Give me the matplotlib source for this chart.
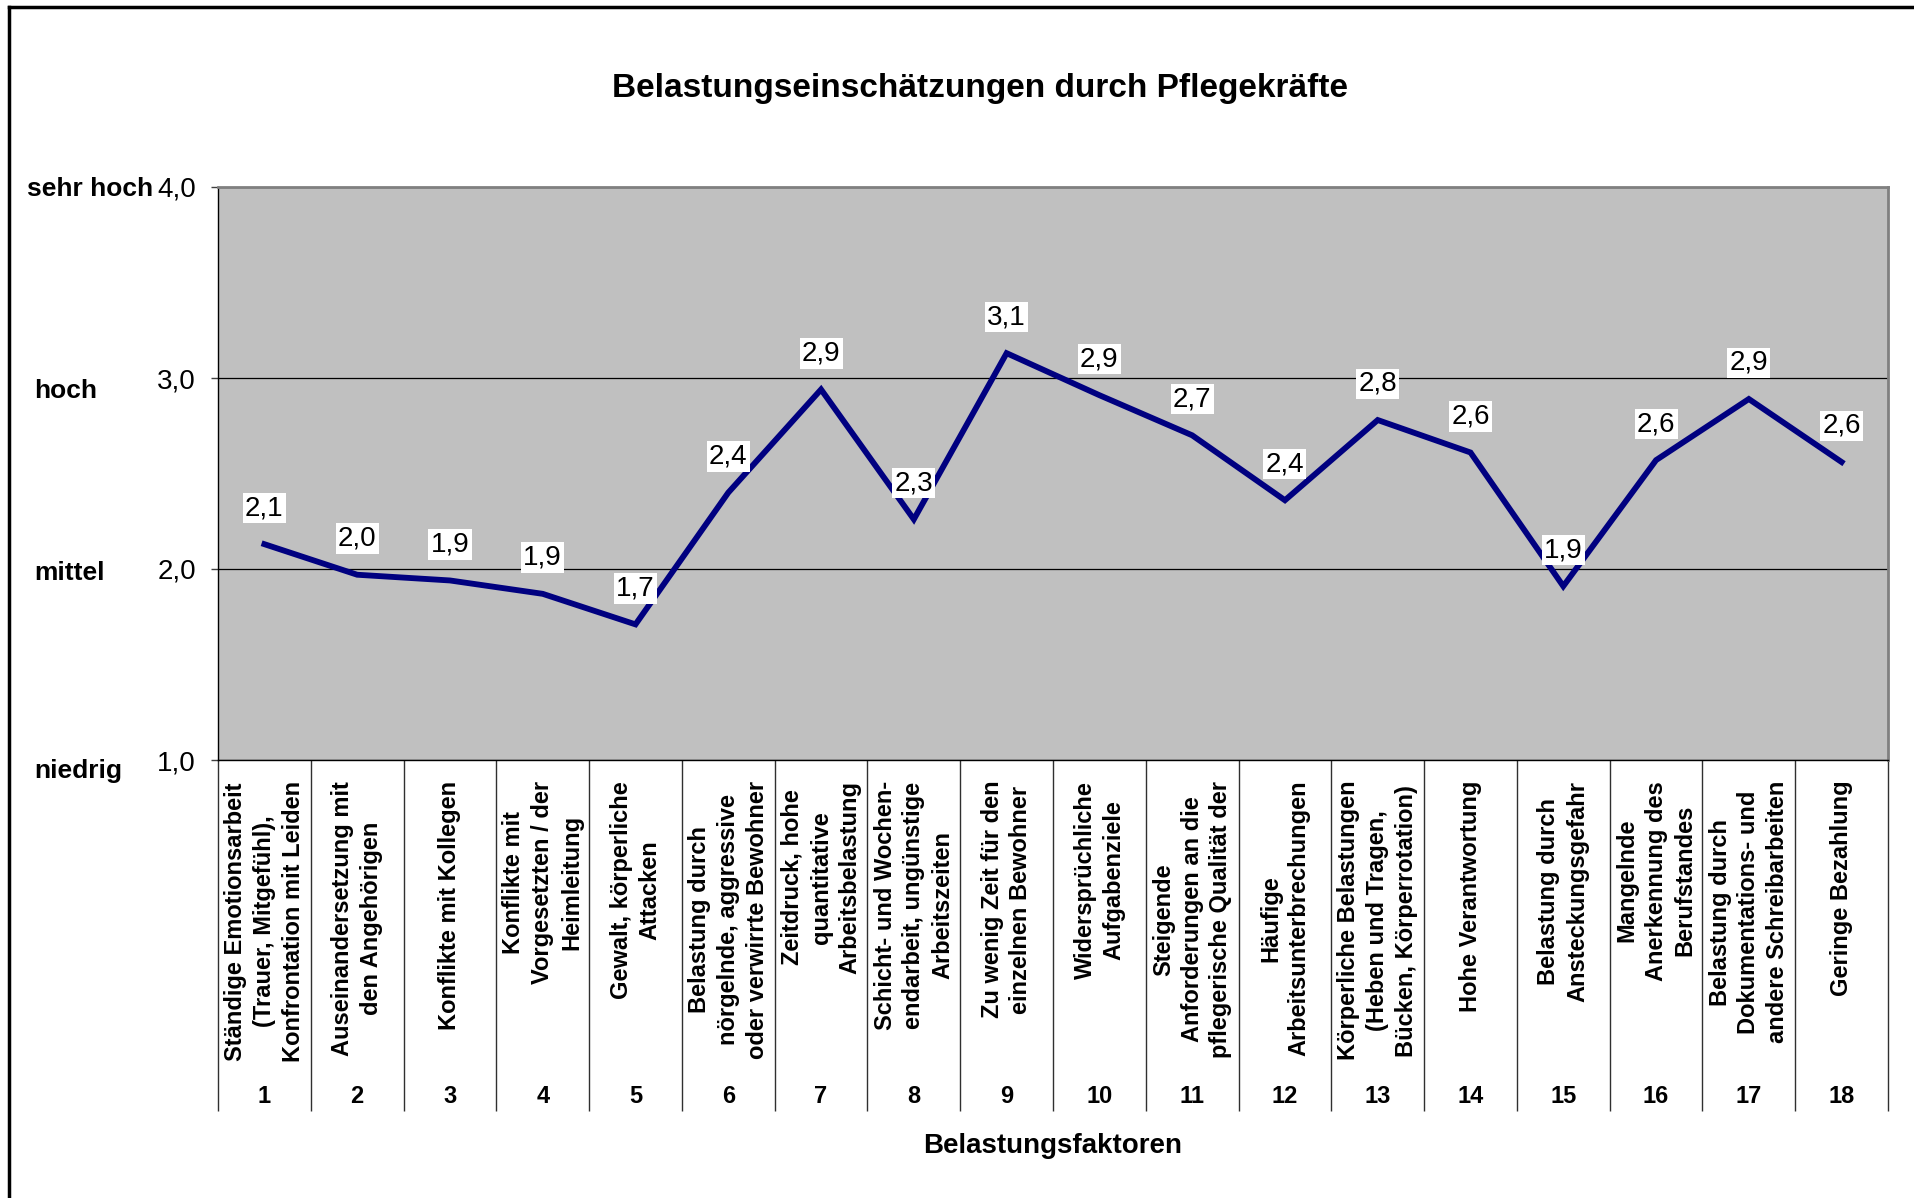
import numpy as np
import matplotlib
matplotlib.use('Agg')
import matplotlib.pyplot as plt
from matplotlib.lines import Line2D
from matplotlib.transforms import blended_transform_factory

plt.rcParams['font.family'] = ['Liberation Sans', 'DejaVu Sans']

# Belastungsfaktoren 1..18
categories = [
    "Ständige Emotionsarbeit\n(Trauer, Mitgefühl),\nKonfrontation mit Leiden",
    "Auseinandersetzung mit\nden Angehörigen",
    "Konflikte mit Kollegen",
    "Konflikte mit\nVorgesetzten / der\nHeimleitung",
    "Gewalt, körperliche\nAttacken",
    "Belastung durch\nnörgelnde, aggressive\noder verwirrte Bewohner",
    "Zeitdruck, hohe\nquantitative\nArbeitsbelastung",
    "Schicht- und Wochen-\nendarbeit, ungünstige\nArbeitszeiten",
    "Zu wenig Zeit für den\neinzelnen Bewohner",
    "Widersprüchliche\nAufgabenziele",
    "Steigende\nAnforderungen an die\npflegerische Qualität der",
    "Häufige\nArbeitsunterbrechungen",
    "Körperliche Belastungen\n(Heben und Tragen,\nBücken, Körperrotation)",
    "Hohe Verantwortung",
    "Belastung durch\nAnsteckungsgefahr",
    "Mangelnde\nAnerkennung des\nBerufstandes",
    "Belastung durch\nDokumentations- und\nandere Schreibarbeiten",
    "Geringe Bezahlung",
]
numbers = [str(i) for i in range(1, 19)]
values = [2.13, 1.97, 1.94, 1.87, 1.71, 2.40, 2.94, 2.26, 3.13,
          2.91, 2.70, 2.36, 2.78, 2.61, 1.91, 2.57, 2.89, 2.56]

y_ticks = [1.0, 2.0, 3.0, 4.0]
y_ticklabels = ['1,0', '2,0', '3,0', '4,0']
levels = ['niedrig', 'mittel', 'hoch', 'sehr hoch']
level_y = [0.94, 1.98, 2.93, 3.99]

fig = plt.figure(figsize=(19.14, 11.98), dpi=100)
ax = fig.add_axes([218 / 1914, 1 - 760 / 1198, 1670 / 1914, 573 / 1198])
ax.set_facecolor('#C0C0C0')

x = np.arange(len(values))
ax.plot(x, values, color='#000080', lw=4.2, solid_joinstyle='miter', zorder=3)

for xi, v in zip(x, values):
    ax.annotate(f'{v:.1f}'.replace('.', ','), (xi, v), xytext=(0, 26),
                textcoords='offset points', ha='center', va='center',
                fontsize=20, zorder=4,
                bbox=dict(boxstyle='square,pad=0.08', fc='white', ec='none'))

ax.set_xlim(-0.5, len(values) - 0.5)
ax.set_ylim(1, 4)

# y axis
ax.set_yticks(y_ticks)
ax.set_yticklabels(y_ticklabels, fontsize=20)
ax.tick_params(axis='y', direction='out', length=5, width=1, color='#404040', pad=11)
ax.grid(axis='y', color='black', lw=0.9)
ax.set_axisbelow(True)

level_tr = blended_transform_factory(fig.transFigure, ax.transData)
for lab, ly in zip(levels, level_y):
    ax.text(27 / 1914 if lab == 'sehr hoch' else 34 / 1914, ly, lab,
            transform=level_tr, ha='left', va='center', fontsize=19, fontweight='bold')

# x axis: numbers as tick labels, separators as long minor ticks
ax.set_xticks(x)
ax.set_xticklabels(numbers, fontsize=17, fontweight='bold')
ax.tick_params(axis='x', which='major', length=0, pad=234)
ax.set_xticks(np.arange(len(values) + 1) - 0.5, minor=True)
ax.tick_params(axis='x', which='minor', direction='out', length=253, width=1, color='#303030')

for xi, lab in zip(x, categories):
    ax.annotate(lab, (xi, 0), xycoords=ax.get_xaxis_transform(), xytext=(0, -15),
                textcoords='offset points', rotation=90, ha='center', va='top',
                multialignment='center', fontsize=17, fontweight='bold',
                linespacing=1.32)

ax.set_xlabel('Belastungsfaktoren', fontsize=20, fontweight='bold', labelpad=12)

for side in ['top', 'right']:
    ax.spines[side].set_color('#808080')
    ax.spines[side].set_linewidth(2)
for side in ['left', 'bottom']:
    ax.spines[side].set_color('black')
    ax.spines[side].set_linewidth(1)

fig.text(980 / 1914, 1 - 89 / 1198, 'Belastungseinschätzungen durch Pflegekräfte',
         ha='center', va='center', fontsize=24, fontweight='bold')

# outer chart border (top and left visible)
fig.add_artist(Line2D([9 / 1914, 1], [1 - 7 / 1198] * 2, transform=fig.transFigure,
                      color='black', lw=2.5))
fig.add_artist(Line2D([9 / 1914] * 2, [0, 1 - 7 / 1198], transform=fig.transFigure,
                      color='black', lw=2.5))

fig.savefig('out.png', dpi=100, facecolor='white')
